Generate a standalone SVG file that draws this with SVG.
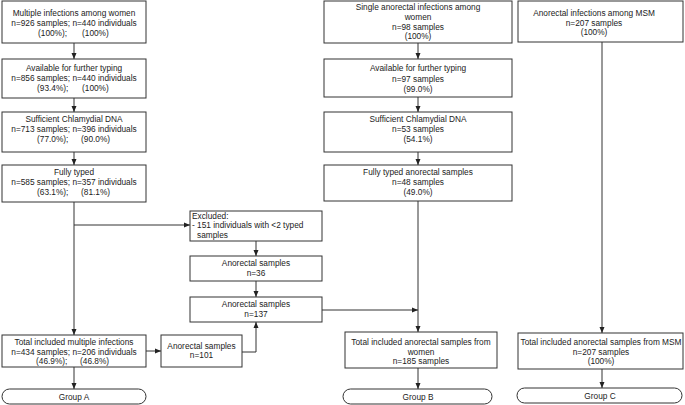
<svg xmlns="http://www.w3.org/2000/svg" width="685" height="405" viewBox="0 0 685 405">
<style>
.box{fill:#fff;stroke:#333;stroke-width:1}
.t{font-family:"Liberation Sans",Arial,sans-serif;font-size:8.3px;fill:#222;text-anchor:middle}
.l{text-anchor:start}
.c{fill:none;stroke:#333;stroke-width:1}
</style>
<defs>
<marker id="ah" markerUnits="userSpaceOnUse" markerWidth="6" markerHeight="6" viewBox="0 0 6 6" refX="6" refY="3" orient="auto">
<path d="M0,0.5 L6,3 L0,5.5 Z" fill="#222"/>
</marker>
</defs>
<rect width="685" height="405" fill="#fff"/>
<g id="connectors">
<path class="c" d="M74,43 V59" marker-end="url(#ah)"/>
<path class="c" d="M74,98 V112" marker-end="url(#ah)"/>
<path class="c" d="M74,152 V165" marker-end="url(#ah)"/>
<path class="c" d="M74,202 V335" marker-end="url(#ah)"/>
<path class="c" d="M74,225 H190" marker-end="url(#ah)"/>
<path class="c" d="M74,367 V389" marker-end="url(#ah)"/>
<path class="c" d="M256,241 V256" marker-end="url(#ah)"/>
<path class="c" d="M256,281 V297" marker-end="url(#ah)"/>
<path class="c" d="M146,351 H161" marker-end="url(#ah)"/>
<path class="c" d="M242,352 H256 V322" marker-end="url(#ah)"/>
<path class="c" d="M322,310 H418" marker-end="url(#ah)"/>
<path class="c" d="M418,43 V59" marker-end="url(#ah)"/>
<path class="c" d="M418,97 V112" marker-end="url(#ah)"/>
<path class="c" d="M418,152 V165" marker-end="url(#ah)"/>
<path class="c" d="M418,201 V332" marker-end="url(#ah)"/>
<path class="c" d="M418,368 V389" marker-end="url(#ah)"/>
<path class="c" d="M602,42 V333" marker-end="url(#ah)"/>
<path class="c" d="M602,369 V388" marker-end="url(#ah)"/>
</g>
<g id="a1"><rect class="box" x="2" y="1" width="144" height="42"/>
<text class="t" x="74" y="15.5">Multiple infections among women</text>
<text class="t" x="74" y="25.5">n=926 samples; n=440 individuals</text>
<text class="t l" x="38" y="35.5">(100%);</text><text class="t l" x="82" y="35.5">(100%)</text></g>
<g id="a2"><rect class="box" x="2" y="59" width="144" height="39"/>
<text class="t" x="74" y="71">Available for further typing</text>
<text class="t" x="74" y="81">n=856 samples; n=440 individuals</text>
<text class="t l" x="37" y="91">(93.4%);</text><text class="t l" x="82" y="91">(100%)</text></g>
<g id="a3"><rect class="box" x="2" y="112" width="144" height="40"/>
<text class="t" x="74" y="122">Sufficient Chlamydial DNA</text>
<text class="t" x="74" y="132">n=713 samples; n=396 individuals</text>
<text class="t l" x="37" y="142">(77.0%);</text><text class="t l" x="81" y="142">(90.0%)</text></g>
<g id="a4"><rect class="box" x="2" y="165" width="144" height="37"/>
<text class="t" x="74" y="175">Fully typed</text>
<text class="t" x="74" y="185">n=585 samples; n=357 individuals</text>
<text class="t l" x="37" y="195">(63.1%);</text><text class="t l" x="81" y="195">(81.1%)</text></g>
<g id="a5"><rect class="box" x="2" y="335" width="144" height="32"/>
<text class="t" x="74" y="345">Total included multiple infections</text>
<text class="t" x="74" y="354.5">n=434 samples; n=206 individuals</text>
<text class="t l" x="36" y="364">(46.9%);</text><text class="t l" x="80" y="364">(46.8%)</text></g>
<g id="groupA"><rect class="box" x="2" y="389" width="144" height="15" rx="7.5"/>
<text class="t" x="74" y="399.5">Group A</text></g>
<g id="excluded"><rect class="box" x="190" y="211" width="132" height="30"/>
<text class="t l" x="192" y="218.5">Excluded:</text>
<text class="t l" x="192" y="228">- 151 individuals with &lt;2 typed</text>
<text class="t l" x="197" y="237.5">samples</text></g>
<g id="ano36"><rect class="box" x="190" y="256" width="132" height="25"/>
<text class="t" x="256" y="266">Anorectal samples</text>
<text class="t" x="256" y="275.5">n=36</text></g>
<g id="ano137"><rect class="box" x="190" y="297" width="132" height="25"/>
<text class="t" x="256" y="307">Anorectal samples</text>
<text class="t" x="256" y="316.5">n=137</text></g>
<g id="ano101"><rect class="box" x="161" y="335" width="81" height="32"/>
<text class="t" x="201.5" y="349">Anorectal samples</text>
<text class="t" x="201.5" y="358">n=101</text></g>
<g id="b1"><rect class="box" x="324" y="1" width="188" height="42"/>
<text class="t" x="418" y="9.5">Single anorectal infections among</text>
<text class="t" x="418" y="19.5">women</text>
<text class="t" x="418" y="29.5">n=98 samples</text>
<text class="t" x="418" y="39">(100%)</text></g>
<g id="b2"><rect class="box" x="324" y="59" width="188" height="38"/>
<text class="t" x="418" y="71">Available for further typing</text>
<text class="t" x="418" y="81.5">n=97 samples</text>
<text class="t" x="418" y="91.5">(99.0%)</text></g>
<g id="b3"><rect class="box" x="324" y="112" width="188" height="40"/>
<text class="t" x="418" y="121.5">Sufficient Chlamydial DNA</text>
<text class="t" x="418" y="132">n=53 samples</text>
<text class="t" x="418" y="142">(54.1%)</text></g>
<g id="b4"><rect class="box" x="324" y="165" width="188" height="36"/>
<text class="t" x="418" y="175">Fully typed anorectal samples</text>
<text class="t" x="418" y="185">n=48 samples</text>
<text class="t" x="418" y="195">(49.0%)</text></g>
<g id="b5"><rect class="box" x="345" y="332" width="152" height="36"/>
<text class="t" x="421" y="345">Total included anorectal samples from</text>
<text class="t" x="421" y="354.5">women</text>
<text class="t" x="421" y="364">n=185 samples</text></g>
<g id="groupB"><rect class="box" x="343" y="389" width="149" height="15" rx="7.5"/>
<text class="t" x="418" y="399.5">Group B</text></g>
<g id="c1"><rect class="box" x="518" y="1" width="165" height="41"/>
<text class="t" x="594" y="16">Anorectal infections among MSM</text>
<text class="t" x="594" y="25.5">n=207 samples</text>
<text class="t" x="594" y="35">(100%)</text></g>
<g id="c5"><rect class="box" x="518" y="333" width="165" height="36"/>
<text class="t" x="601" y="345">Total included anorectal samples from MSM</text>
<text class="t" x="601" y="354.5">n=207 samples</text>
<text class="t" x="601" y="364">(100%)</text></g>
<g id="groupC"><rect class="box" x="517" y="388" width="165" height="15" rx="7.5"/>
<text class="t" x="600" y="398.5">Group C</text></g>
</svg>
